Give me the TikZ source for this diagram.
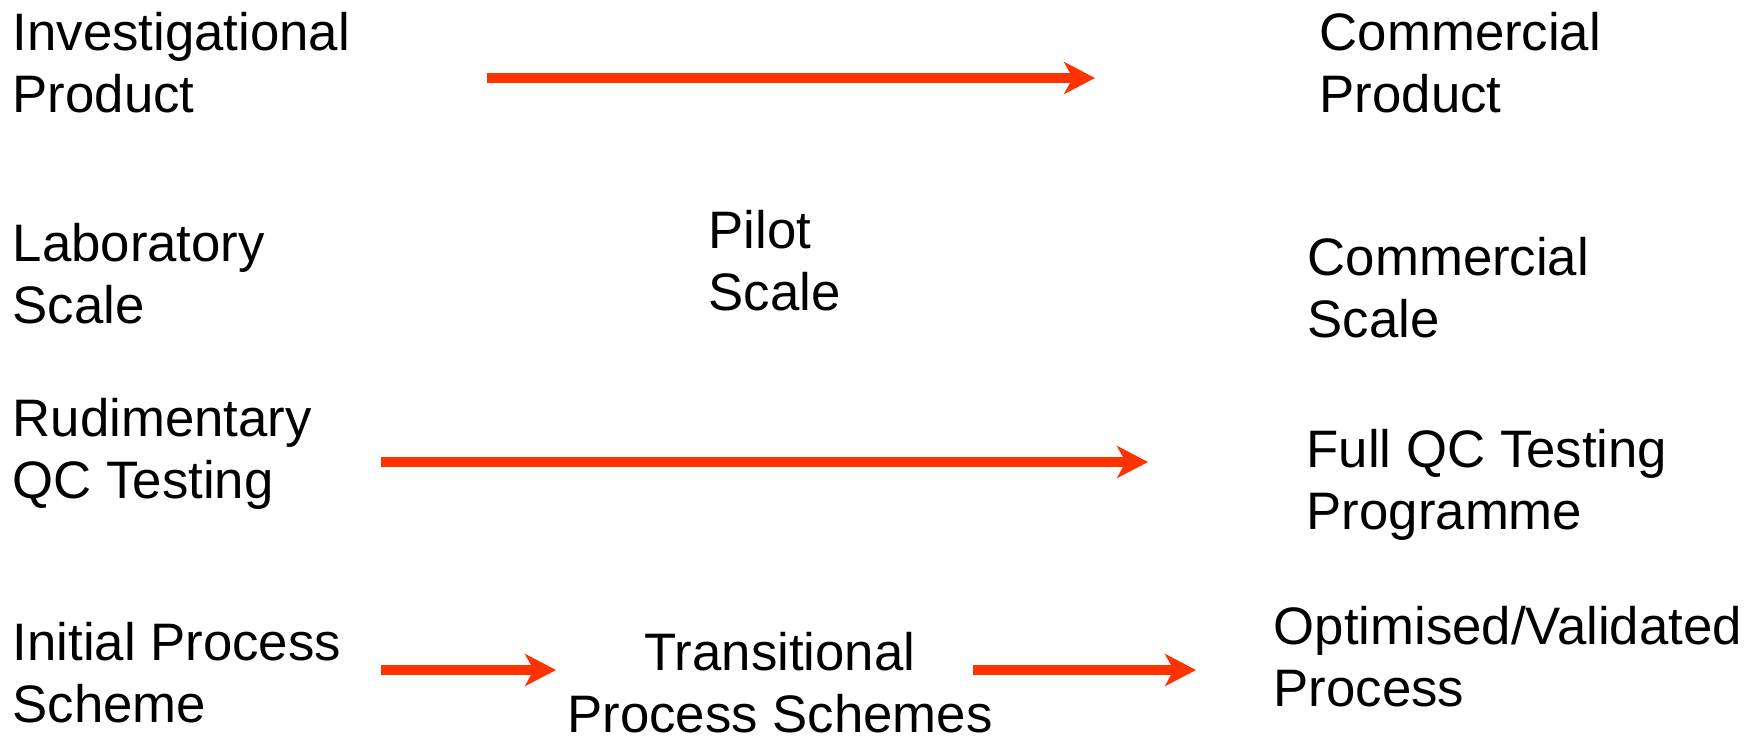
\documentclass[tikz,border=0pt]{standalone}
\usepackage{fontspec}
\setmainfont{Liberation Sans}
\usepackage{xcolor}
\usetikzlibrary{arrows.meta,positioning}

\definecolor{arrred}{HTML}{FF3300}

\begin{document}
\begin{tikzpicture}[
  x=0.01cm, y=-0.01cm,
  lbl/.style={anchor=base west, inner sep=0pt, align=left,
              font=\fontsize{15pt}{17.6pt}\selectfont},
  arr/.style={-{Stealth[length=8.8pt, width=9.1pt, inset=2.5pt]},
              line width=3.1pt, draw=arrred}
]
\useasboundingbox (0,0) rectangle (1763,738);
% labels placed at the baseline of their last line
\node[lbl] (invest)  at (12,112)   {Investigational\\Product};
\node[lbl] (comprod) at (1319,112) {Commercial\\Product};
\node[lbl] (lab)     at (12,323)   {Laboratory\\Scale};
\node[lbl] (pilot)   at (708,310)  {Pilot\\Scale};
\node[lbl] (comscl)  at (1307,337) {Commercial\\Scale};
\node[lbl] (rudqc)   at (12,498)   {Rudimentary\\QC Testing};
\node[lbl] (fullqc)  at (1306,529) {Full QC Testing\\Programme};
\node[lbl] (initial) at (12,722)   {Initial Process\\Scheme};
\node[lbl, anchor=base, align=center] (trans) at (780,732)
  {Transitional\\Process Schemes};
\node[lbl] (optim)   at (1273,706) {Optimised/Validated\\Process};
% arrow end points
\coordinate (prodA) at (487,78);
\coordinate (prodB) at (1095,78);
\coordinate (qcA)   at (381,462);
\coordinate (qcB)   at (1148,462);
\coordinate (procA) at (381,670);
\coordinate (procB) at (556,670);
\coordinate (procC) at (973,670);
\coordinate (procD) at (1196,670);
\draw[arr] (prodA) -- (prodB);
\draw[arr] (qcA) -- (qcB);
\draw[arr] (procA) -- (procB);
\draw[arr] (procC) -- (procD);
\end{tikzpicture}
\end{document}
